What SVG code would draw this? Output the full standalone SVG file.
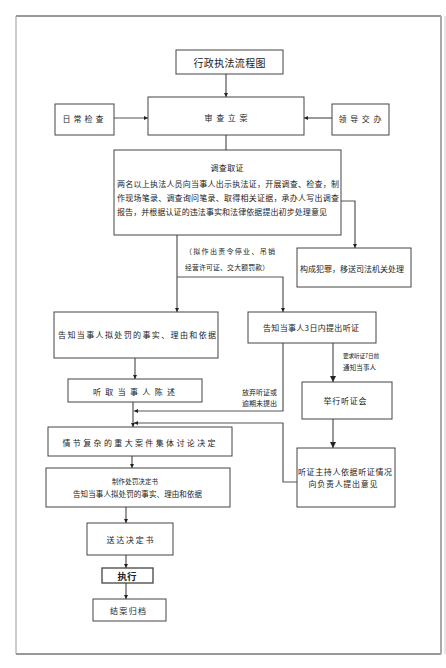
<svg xmlns="http://www.w3.org/2000/svg" width="446" height="668" viewBox="0 0 446 668">
<style>
.box{fill:#fff;stroke:#444;stroke-width:1}
.t{font-family:"Noto Sans CJK SC","Noto Sans",sans-serif;font-size:8px;fill:#222;text-anchor:middle;dominant-baseline:central}
.s{font-size:7px}
.l{text-anchor:start}
.c{fill:none;stroke:#555;stroke-width:1.2}
</style>
<defs>
<marker id="ah" viewBox="0 0 10 10" refX="10" refY="5" markerWidth="4" markerHeight="4" orient="auto" markerUnits="userSpaceOnUse">
<path d="M0,0 L10,5 L0,10 z" fill="#222"/>
</marker>
<marker id="ab" viewBox="0 0 10 10" refX="10" refY="5" markerWidth="6" markerHeight="6" orient="auto" markerUnits="userSpaceOnUse">
<path d="M0,0 L10,5 L0,10 z" fill="#222"/>
</marker>
</defs>
<rect x="0" y="0" width="446" height="668" fill="#fff"/>
<g id="frame">
<line x1="16" y1="16" x2="441" y2="16" stroke="#333" stroke-width="1"/>
<line x1="16" y1="654" x2="441" y2="654" stroke="#333" stroke-width="1"/>
<line x1="16" y1="16" x2="16" y2="654" stroke="#999" stroke-width="1"/>
<line x1="441" y1="16" x2="441" y2="654" stroke="#aaa" stroke-width="2"/>
<line x1="445" y1="16" x2="445" y2="654" stroke="#ccc" stroke-width="1"/>
</g>
<g id="connectors">
<path class="c" d="M226,74 V97" marker-end="url(#ah)"/>
<path class="c" d="M114,118 H148" marker-end="url(#ah)"/>
<path class="c" d="M332,118 H304" marker-end="url(#ah)"/>
<path class="c" d="M226,135 V150"/>
<path class="c" d="M341,201 H355 V248" marker-end="url(#ah)"/>
<path class="c" d="M177,235 V312" marker-end="url(#ah)"/>
<path class="c" d="M177,277 H283 V312" marker-end="url(#ah)"/>
<path class="c" d="M135,358 V379" marker-end="url(#ah)"/>
<path class="c" d="M133,402 V427" marker-end="url(#ah)"/>
<path class="c" d="M283,343 V411 H134" marker-end="url(#ah)"/>
<path class="c" d="M333,343 V382" marker-end="url(#ab)"/>
<path class="c" d="M333,419 V448" marker-end="url(#ab)"/>
<path class="c" d="M297,482 H283 V423 H134" marker-end="url(#ah)"/>
<path class="c" d="M132,456 V468" marker-end="url(#ah)"/>
<path class="c" d="M126,507 V523" marker-end="url(#ah)"/>
<path class="c" d="M126,555 V568" marker-end="url(#ah)"/>
<path class="c" d="M126,583 V599" marker-end="url(#ah)"/>
<text class="t s l" x="185" y="251" textLength="90" lengthAdjust="spacing">（拟作出责令停业、吊销</text>
<text class="t s l" x="185" y="267" style="font-size:6.8px" textLength="84" lengthAdjust="spacing">经营许可证、交大额罚款）</text>
<text class="t s l" x="242" y="392" textLength="35" lengthAdjust="spacing">放弃听证或</text>
<text class="t s l" x="242" y="403" textLength="35" lengthAdjust="spacing">逾期未提出</text>
<text class="t s l" x="343" y="356" style="font-size:5.6px" textLength="36" lengthAdjust="spacing">要求听证7日前</text>
<text class="t s l" x="343" y="367" style="font-size:6.5px" textLength="33" lengthAdjust="spacing">通知当事人</text>
</g>
<g id="n-title">
<rect class="box" x="176" y="50" width="107" height="24"/>
<text class="t" x="229.5" y="62" style="font-size:10px" textLength="72" lengthAdjust="spacing">行政执法流程图</text>
</g>
<g id="n-shenchalian">
<rect class="box" x="148" y="97" width="156" height="38"/>
<text class="t" x="226" y="117" textLength="43" lengthAdjust="spacing">审查立案</text>
</g>
<g id="n-richang">
<rect class="box" x="55" y="104" width="59" height="31"/>
<text class="t" x="83" y="118" textLength="41" lengthAdjust="spacing">日常检查</text>
</g>
<g id="n-lingdao">
<rect class="box" x="332" y="104" width="57" height="31"/>
<text class="t" x="360" y="118" textLength="43" lengthAdjust="spacing">领导交办</text>
</g>
<g id="n-diaocha">
<rect class="box" x="114" y="150" width="227" height="85"/>
<text class="t" x="227" y="167" textLength="33" lengthAdjust="spacing">调查取证</text>
<text class="t l" x="117" y="183" textLength="222" lengthAdjust="spacing">两名以上执法人员向当事人出示执法证，开展调查、检查，制</text>
<text class="t l" x="117" y="197" textLength="222" lengthAdjust="spacing">作现场笔录、调查询问笔录、取得相关证据，承办人写出调查</text>
<text class="t l" x="117" y="211" textLength="210" lengthAdjust="spacing">报告，并根据认证的违法事实和法律依据提出初步处理意见</text>
</g>
<g id="n-fanzui">
<rect class="box" x="297" y="248" width="114" height="39"/>
<text class="t" x="352" y="268" textLength="104" lengthAdjust="spacing">构成犯罪，移送司法机关处理</text>
</g>
<g id="n-gaozhi1">
<rect class="box" x="54" y="312" width="164" height="46"/>
<text class="t" x="137" y="334" textLength="158" lengthAdjust="spacing">告知当事人拟处罚的事实、理由和依据</text>
</g>
<g id="n-gaozhi3">
<rect class="box" x="248" y="312" width="128" height="31"/>
<text class="t" x="311" y="327" textLength="96" lengthAdjust="spacing">告知当事人3日内提出听证</text>
</g>
<g id="n-tingqu">
<rect class="box" x="68" y="379" width="134" height="23"/>
<text class="t" x="134" y="391" textLength="82" lengthAdjust="spacing">听取当事人陈述</text>
</g>
<g id="n-juxing">
<rect class="box" x="302" y="382" width="90" height="37"/>
<text class="t" x="345" y="400" textLength="43" lengthAdjust="spacing">举行听证会</text>
</g>
<g id="n-zhuchi">
<rect class="box" x="297" y="448" width="98" height="59"/>
<text class="t" x="345" y="471" textLength="94" lengthAdjust="spacing">听证主持人依据听证情况</text>
<text class="t" x="343" y="483" textLength="69" lengthAdjust="spacing">向负责人提出意见</text>
</g>
<g id="n-qingjie">
<rect class="box" x="48" y="427" width="184" height="29"/>
<text class="t" x="139" y="442" textLength="153" lengthAdjust="spacing">情节复杂的重大案件集体讨论决定</text>
</g>
<g id="n-zhizuo">
<rect class="box" x="46" y="468" width="184" height="39"/>
<text class="t" x="135" y="481" style="font-size:6.5px" textLength="46" lengthAdjust="spacing">制作处罚决定书</text>
<text class="t" x="137.5" y="493" style="font-size:7.5px" textLength="129" lengthAdjust="spacing">告知当事人拟处罚的事实、理由和依据</text>
</g>
<g id="n-songda">
<rect class="box" x="87" y="523" width="86" height="32"/>
<text class="t" x="130" y="539" textLength="47" lengthAdjust="spacing">送达决定书</text>
</g>
<g id="n-zhixing">
<rect class="box" x="102" y="568" width="51" height="15" style="stroke-width:1.3"/>
<text class="t" x="127" y="575.5" style="font-size:9.5px;font-weight:bold" textLength="19" lengthAdjust="spacingAndGlyphs">执行</text>
</g>
<g id="n-jiean">
<rect class="box" x="93" y="599" width="73" height="22"/>
<text class="t" x="128" y="610" textLength="36" lengthAdjust="spacing">结案归档</text>
</g>
</svg>
